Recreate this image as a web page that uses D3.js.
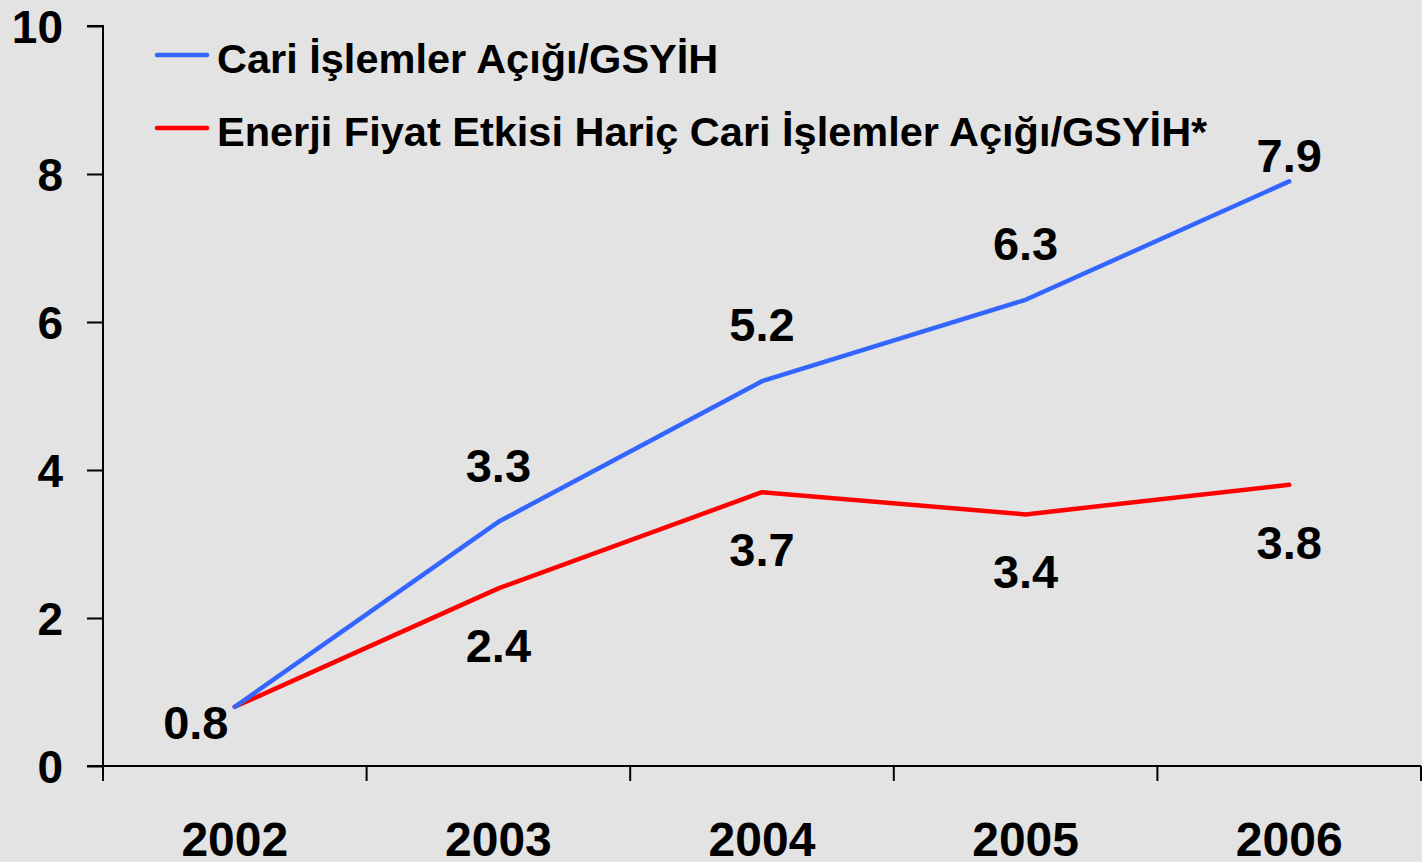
<!DOCTYPE html>
<html>
<head>
<meta charset="utf-8">
<script src="https://cdn.jsdelivr.net/npm/d3@7"></script>
<style>
  html, body { margin: 0; padding: 0; background: #e3e3e3; }
  svg { display: block; }
  text { font-family: "Liberation Sans", Arial, sans-serif; font-weight: bold; fill: #000; }
</style>
</head>
<body>
<svg id="chart" width="1422" height="862"></svg>
<script>
const years = ["2002", "2003", "2004", "2005", "2006"];
const cariAcik = [0.8, 3.3, 5.2, 6.3, 7.9];
const enerjiHaricAcik = [0.8, 2.4, 3.7, 3.4, 3.8];
const yTicks = [0, 2, 4, 6, 8, 10];
const seriesNames = ["Cari İşlemler Açığı/GSYİH", "Enerji Fiyat Etkisi Hariç Cari İşlemler Açığı/GSYİH*"];
const seriesColors = ["#3366ff", "#ff0000"];

const svg = d3.select("#chart");
svg.append("rect").attr("width", 1422).attr("height", 862).attr("fill", "#e3e3e3");

const x = d3.scaleBand().domain(years).range([103, 1421]).paddingInner(0).paddingOuter(0);
const y = d3.scaleLinear().domain([0, 10]).range([766, 26]);

// Y axis
const yAxis = d3.axisLeft(y).tickValues(yTicks).tickSize(16).tickPadding(24).tickFormat(d3.format("d"));
const gy = svg.append("g").attr("transform", "translate(103,0)").call(yAxis);
gy.select(".domain").attr("stroke", "#000").attr("stroke-width", 2).attr("d", `M-16,${y(10)}H0V${y(0)}`);
gy.selectAll(".tick line").attr("stroke", "#000").attr("stroke-width", 2);
gy.selectAll(".tick text").attr("font-size", 46).attr("font-family", "Liberation Sans, Arial, sans-serif")
  .attr("font-weight", "bold").attr("fill", "#000").attr("dy", "0.36em");

// X axis: ticks at band boundaries
const bounds = years.map(d => x(d)).concat([x.range()[1]]);
const xb = d3.scaleLinear().domain([0, 1]).range([0, 1]);
const gx = svg.append("g").attr("transform", `translate(0,${y(0)})`);
gx.append("line").attr("x1", 87).attr("x2", x.range()[1]).attr("y1", 0).attr("y2", 0)
  .attr("stroke", "#000").attr("stroke-width", 2);
gx.selectAll("line.tk").data(bounds).enter().append("line").attr("class", "tk")
  .attr("x1", d => d).attr("x2", d => d).attr("y1", 0).attr("y2", 15)
  .attr("stroke", "#000").attr("stroke-width", 2);
gx.selectAll("text.yr").data(years).enter().append("text").attr("class", "yr")
  .attr("x", d => x(d) + x.bandwidth() / 2).attr("y", 90)
  .attr("text-anchor", "middle").attr("font-size", 48).text(d => d);

// Lines
const line = d3.line().x((d, i) => x(years[i]) + x.bandwidth() / 2).y(d => y(d));
[enerjiHaricAcik, cariAcik].forEach((s, k) => {
  const col = k === 0 ? seriesColors[1] : seriesColors[0];
  svg.append("path").datum(s).attr("d", line).attr("fill", "none")
    .attr("stroke", col).attr("stroke-width", 4.5).attr("stroke-linecap", "round").attr("stroke-linejoin", "round");
});

// Data labels
const cx = i => x(years[i]) + x.bandwidth() / 2;
cariAcik.forEach((v, i) => {
  if (i === 0) return;
  const by = Math.max(y(v) - 40, 172);
  svg.append("text").attr("x", cx(i)).attr("y", by).attr("text-anchor", "middle")
    .attr("font-size", 47).text(d3.format(".1f")(v));
});
enerjiHaricAcik.forEach((v, i) => {
  if (i === 0) return;
  svg.append("text").attr("x", cx(i)).attr("y", y(v) + 74).attr("text-anchor", "middle")
    .attr("font-size", 47).text(d3.format(".1f")(v));
});
// shared first point label
svg.append("text").attr("x", cx(0) - 39).attr("y", y(cariAcik[0]) + 32).attr("text-anchor", "middle")
  .attr("font-size", 47).text(d3.format(".1f")(cariAcik[0]));

// Legend
const legend = svg.append("g");
seriesNames.forEach((name, i) => {
  const ly = 55 + i * 73;
  legend.append("line").attr("x1", 157).attr("x2", 207).attr("y1", ly).attr("y2", ly)
    .attr("stroke", seriesColors[i]).attr("stroke-width", 4.5).attr("stroke-linecap", "round");
  legend.append("text").attr("x", 217).attr("y", ly + 18).attr("font-size", 41.5).text(name);
});
</script>
</body>
</html>
